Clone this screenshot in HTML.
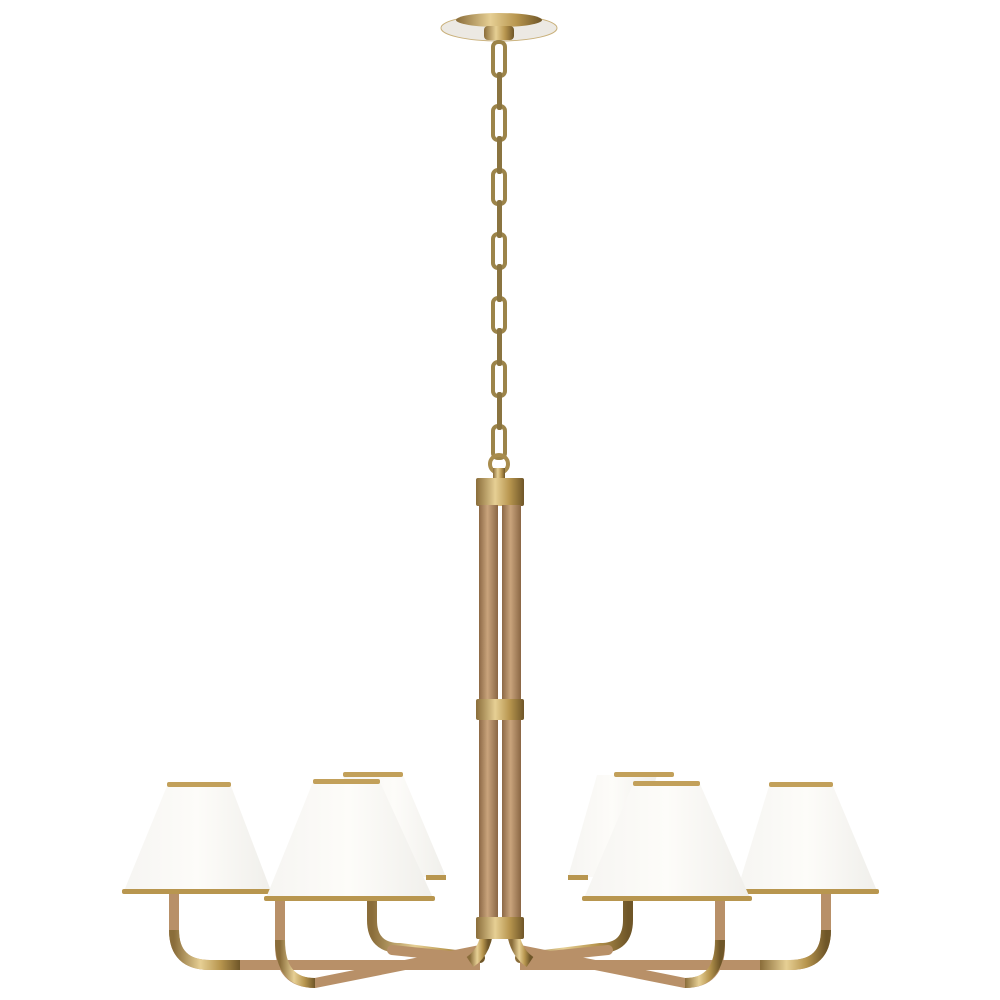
<!DOCTYPE html>
<html><head><style>html,body{margin:0;padding:0;background:#fff;}svg{display:block}</style></head>
<body>
<svg width="1000" height="1000" viewBox="0 0 1000 1000" xmlns="http://www.w3.org/2000/svg">
<defs>
<linearGradient id="brass" x1="0" x2="1" y1="0" y2="0">
<stop offset="0" stop-color="#8a6d3a"/><stop offset="0.4" stop-color="#e6cf94"/><stop offset="0.7" stop-color="#b8964f"/><stop offset="1" stop-color="#6f5628"/>
</linearGradient>
<linearGradient id="wood" x1="0" x2="1" y1="0" y2="0">
<stop offset="0" stop-color="#8c6845"/><stop offset="0.45" stop-color="#c9a47c"/><stop offset="1" stop-color="#8a6644"/>
</linearGradient>
<linearGradient id="shade" x1="0" x2="1" y1="0" y2="0">
<stop offset="0" stop-color="#f6f5f2"/><stop offset="0.5" stop-color="#fdfcf9"/><stop offset="1" stop-color="#f0efeb"/>
</linearGradient>
</defs>
<ellipse cx="499" cy="28" rx="58" ry="13" fill="#ece9e3" stroke="#c9b07a" stroke-width="1"/>
<ellipse cx="499" cy="20" rx="43" ry="7" fill="url(#brass)"/>
<rect x="484" y="26" width="30" height="14" rx="4" fill="url(#brass)"/>
<g fill="none" stroke="#9c8449" stroke-width="4">
<rect x="493" y="42" width="12" height="34" rx="5"/>
<rect x="493" y="106" width="12" height="34" rx="5"/>
<rect x="493" y="170" width="12" height="34" rx="5"/>
<rect x="493" y="234" width="12" height="34" rx="5"/>
<rect x="493" y="298" width="12" height="34" rx="5"/>
<rect x="493" y="362" width="12" height="34" rx="5"/>
<rect x="493" y="426" width="12" height="32" rx="5"/>
</g>
<g fill="#8a7440">
<rect x="497" y="72" width="5" height="38" rx="2"/>
<rect x="497" y="136" width="5" height="38" rx="2"/>
<rect x="497" y="200" width="5" height="38" rx="2"/>
<rect x="497" y="264" width="5" height="38" rx="2"/>
<rect x="497" y="328" width="5" height="38" rx="2"/>
<rect x="497" y="392" width="5" height="38" rx="2"/>
</g>
<circle cx="499" cy="464" r="9" fill="none" stroke="#a88c4d" stroke-width="4"/>
<rect x="493" y="468" width="12" height="12" fill="url(#brass)"/>
<rect x="476" y="478" width="48" height="28" rx="2" fill="url(#brass)"/>
<rect x="479" y="505" width="19" height="415" fill="url(#wood)"/>
<rect x="502" y="505" width="19" height="415" fill="url(#wood)"/>
<rect x="476" y="699" width="48" height="21" rx="2" fill="url(#brass)"/>
<g fill="none" stroke-linecap="round">
<path d="M372 878 V920 Q372 948 400 948 L480 958" stroke="url(#brass)" stroke-width="10"/>
<path d="M392 950 L470 958" stroke="#b89068" stroke-width="10"/>
<path d="M628 878 V920 Q628 948 600 948 L520 958" stroke="url(#brass)" stroke-width="10"/>
<path d="M608 950 L530 958" stroke="#b89068" stroke-width="10"/>
</g>
<polygon points="343,775 403,775 446,877 372,877" fill="url(#shade)"/>
<rect x="343" y="772" width="60" height="5" rx="2" fill="#c2a05a"/>
<polygon points="597,775 657,775 628,877 568,877" fill="url(#shade)"/>
<rect x="614" y="772" width="60" height="5" rx="2" fill="#c2a05a"/>
<rect x="568" y="875" width="20" height="5" fill="#b8964f"/>
<rect x="426" y="875" width="20" height="5" fill="#b8964f"/>
<g fill="none" stroke-linecap="butt">
<path d="M174 893 V930 Q174 965 210 965 L480 965" stroke="#b89068" stroke-width="10"/>
<path d="M174 930 Q174 965 210 965 L240 965" stroke="url(#brass)" stroke-width="10"/>
<path d="M826 893 V930 Q826 965 790 965 L520 965" stroke="#b89068" stroke-width="10"/>
<path d="M826 930 Q826 965 790 965 L760 965" stroke="url(#brass)" stroke-width="10"/>
<path d="M280 900 V945 Q280 983 315 983 L480 950" stroke="#b89068" stroke-width="10"/>
<path d="M280 940 Q280 983 315 983" stroke="url(#brass)" stroke-width="10"/>
<path d="M720 900 V945 Q720 983 685 983 L520 950" stroke="#b89068" stroke-width="10"/>
<path d="M720 940 Q720 983 685 983" stroke="url(#brass)" stroke-width="10"/>
<path d="M488 920 Q488 950 470 962" stroke="url(#brass)" stroke-width="12"/>
<path d="M512 920 Q512 950 530 962" stroke="url(#brass)" stroke-width="12"/>
</g>
<rect x="476" y="917" width="48" height="22" rx="2" fill="url(#brass)"/>
<polygon points="167,786 231,786 271,891 124,891" fill="url(#shade)"/>
<rect x="167" y="782" width="64" height="5" rx="2" fill="#c2a05a"/>
<rect x="122" y="889" width="151" height="5" rx="2" fill="#b8964f"/>
<polygon points="769,786 833,786 877,891 737,891" fill="url(#shade)"/>
<rect x="769" y="782" width="64" height="5" rx="2" fill="#c2a05a"/>
<rect x="735" y="889" width="144" height="5" rx="2" fill="#b8964f"/>
<polygon points="313,782 380,782 433,898 266,898" fill="url(#shade)"/>
<rect x="313" y="779" width="67" height="5" rx="2" fill="#c2a05a"/>
<rect x="264" y="896" width="171" height="5" rx="2" fill="#b8964f"/>
<polygon points="633,784 700,784 750,898 584,898" fill="url(#shade)"/>
<rect x="633" y="781" width="67" height="5" rx="2" fill="#c2a05a"/>
<rect x="582" y="896" width="170" height="5" rx="2" fill="#b8964f"/>
</svg>
</body></html>
